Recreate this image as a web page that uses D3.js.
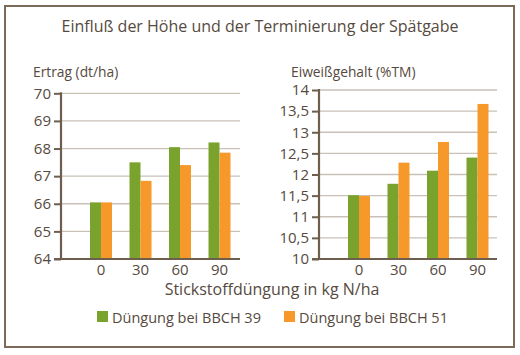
<!DOCTYPE html>
<html><head><meta charset="utf-8">
<script src="https://cdn.jsdelivr.net/npm/d3@7"></script>
<style>
html,body{margin:0;padding:0;background:#fff;}
svg{display:block;}
text{font-family:"Open Sans",sans-serif;fill:#564a40;}
</style></head>
<body>
<script>
const categories = ["0","30","60","90"];
const seriesNames = ["Düngung bei BBCH 39","Düngung bei BBCH 51"];
const ertrag39 = [66.05, 67.5, 68.05, 68.22];
const ertrag51 = [66.05, 66.83, 67.4, 67.85];
const eiweiss39 = [11.51, 11.78, 12.09, 12.40];
const eiweiss51 = [11.49, 12.28, 12.77, 13.67];
const ertragTicks = [64,65,66,67,68,69,70];
const eiweissTicks = [10,10.5,11,11.5,12,12.5,13,13.5,14];
const title = "Einfluß der Höhe und der Terminierung der Spätgabe";
const xTitle = "Stickstoffdüngung in kg N/ha";

const colors = ["#7aa32e","#f7982a"];
const W = 520, H = 355;
const svg = d3.select("body").append("svg").attr("width",W).attr("height",H);

svg.append("rect").attr("x",5).attr("y",6).attr("width",509).attr("height",341)
  .attr("fill","#fff").attr("stroke","#7b6a58").attr("stroke-width",2);

svg.append("text").attr("x",260).attr("y",32).attr("text-anchor","middle")
  .attr("font-size",16).text(title);

function panel(cfg){
  const g = svg.append("g");
  const y = d3.scaleLinear().domain(cfg.domain).range([259,cfg.top]);
  const x = d3.scalePoint().domain(categories).range([cfg.axisX+40, cfg.axisX+158.5]);
  const bw = 11;
  g.selectAll("line.grid").data(cfg.ticks.slice(1)).join("line")
    .attr("x1",cfg.axisX).attr("x2",cfg.right)
    .attr("y1",d=>y(d)).attr("y2",d=>y(d))
    .attr("stroke","#c9c1b8").attr("stroke-width",1.3);
  const series = [cfg.s1, cfg.s2];
  series.forEach((vals,si)=>{
    g.selectAll("rect.s"+si).data(vals).join("rect")
      .attr("x",(d,i)=>x(categories[i]) - bw + si*bw)
      .attr("width",bw)
      .attr("y",d=>y(d)).attr("height",d=>y(cfg.domain[0])-y(d))
      .attr("fill",colors[si]);
  });
  const ya = d3.axisLeft(y).tickValues(cfg.ticks).tickSize(7).tickPadding(3)
    .tickFormat(d=>d3.format(cfg.fmt)(d).replace(".",","));
  const yg = g.append("g").attr("transform",`translate(${cfg.axisX},0)`).call(ya);
  yg.select(".domain").attr("stroke","#6e5e4e").attr("stroke-width",2.2).attr("d",`M0,${y(cfg.domain[1])-1}V${y(cfg.domain[0])+1}`);
  yg.selectAll(".tick line").attr("stroke","#6e5e4e").attr("stroke-width",2);
  yg.selectAll(".tick text").attr("font-size",15).attr("fill","#564a40").attr("font-family","Open Sans");
  g.append("line").attr("x1",cfg.axisX-7).attr("x2",cfg.right)
    .attr("y1",259).attr("y2",259).attr("stroke","#6e5e4e").attr("stroke-width",2.2);
  g.selectAll("text.xl").data(categories).join("text")
    .attr("x",d=>x(d)).attr("y",275).attr("text-anchor","middle")
    .attr("font-size",15).text(d=>d);
  g.append("text").attr("x",cfg.titleX).attr("y",77).attr("font-size",13.8).text(cfg.label);
}

panel({domain:[64,70], ticks:ertragTicks, s1:ertrag39, s2:ertrag51, axisX:61, right:240, top:93.3, fmt:"d", label:"Ertrag (dt/ha)", titleX:33});
panel({domain:[10,14], ticks:eiweissTicks, s1:eiweiss39, s2:eiweiss51, axisX:319, right:497, top:90, fmt:"", label:"Eiweißgehalt (%TM)", titleX:291});

svg.append("text").attr("x",272).attr("y",295).attr("text-anchor","middle")
  .attr("font-size",16).attr("font-weight",500).text(xTitle);

const leg = svg.append("g");
const legX = [97, 284];
seriesNames.forEach((n,i)=>{
  leg.append("rect").attr("x",legX[i]).attr("y",311).attr("width",11).attr("height",11).attr("fill",colors[i]);
  leg.append("text").attr("x",legX[i]+15).attr("y",322.5).attr("font-size",14.5).text(n);
});
</script>
</body></html>
